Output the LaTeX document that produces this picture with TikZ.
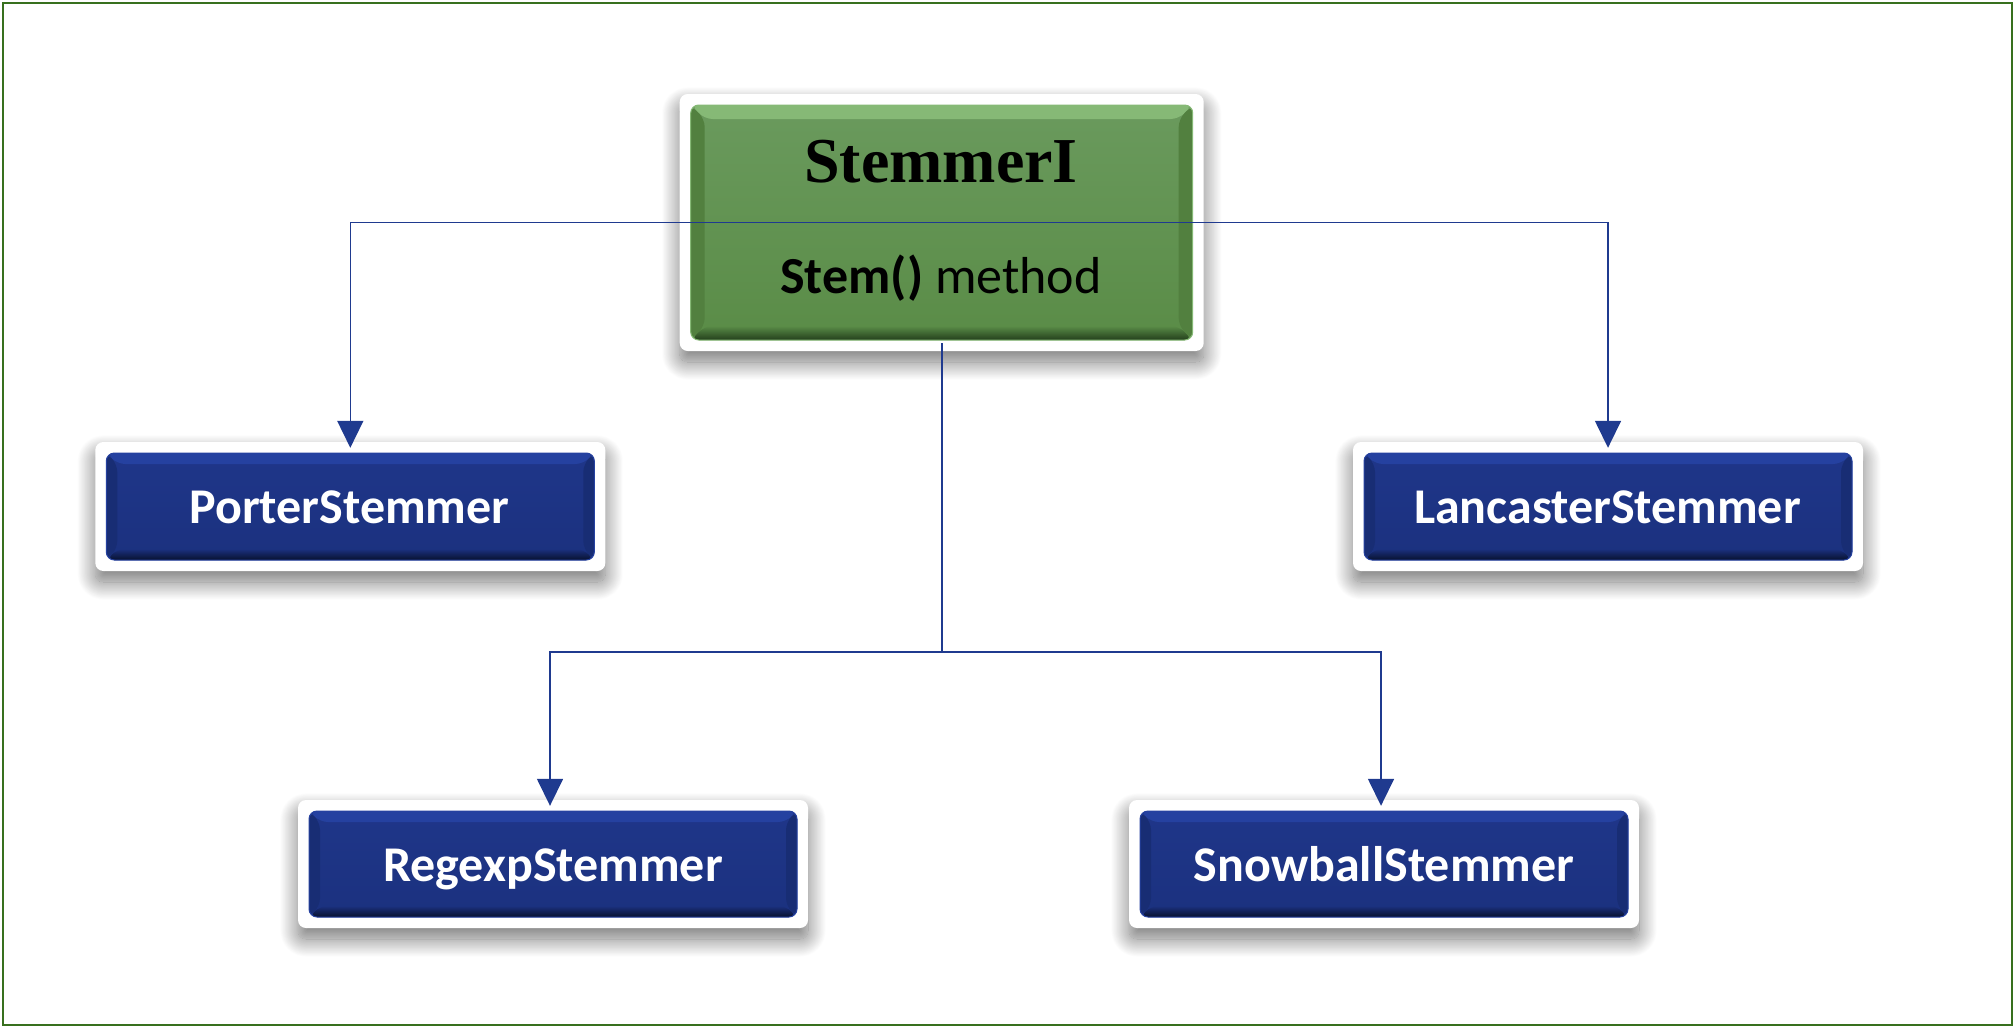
\documentclass[tikz,border=0pt]{standalone}
\usepackage{fontspec}
\setmainfont{Carlito}
\newfontfamily\timesbold{Liberation Serif}
\usetikzlibrary{arrows.meta,shadows.blur,calc}
\definecolor{connc}{HTML}{1F3A8F}
\definecolor{framec}{HTML}{38701E}
\definecolor{gTop}{HTML}{6A9A5D}
\definecolor{gBot}{HTML}{5A8C47}
\definecolor{gLight}{HTML}{86B976}
\definecolor{gDark}{HTML}{233F1C}
\definecolor{gSide}{HTML}{52803F}
\definecolor{bTop}{HTML}{1F3689}
\definecolor{bBot}{HTML}{1B317F}
\definecolor{bLight}{HTML}{2541A0}
\definecolor{bDark}{HTML}{08112E}
\definecolor{bSide}{HTML}{182D74}
\newcommand\bevfill[7]{%
  \coordinate (bvA) at ($(path picture bounding box.north west)+(#1,#1)$);
  \coordinate (bvB) at ($(path picture bounding box.south east)+(-#1,-#1)$);
  \coordinate (bvTR) at (bvA -| bvB);
  \coordinate (bvBL) at (bvA |- bvB);
  \shade[top color=#3,bottom color=#4] (bvA) rectangle (bvB);
  \fill[#5] (bvA) -- (bvTR) -- ($(bvTR)+(-#2,#2)$) -- ($(bvA)+(#2,#2)$) -- cycle;
  \shade[top color=#4, bottom color=#6] (bvBL) -- (bvB) -- ($(bvB)+(-#2,-#2)$) -- ($(bvBL)+(#2,-#2)$) -- cycle;
  \fill[#7] (bvA) -- (bvBL) -- ($(bvBL)+(#2,-#2)$) -- ($(bvA)+(#2,#2)$) -- cycle;
  \fill[#7] (bvTR) -- (bvB) -- ($(bvB)+(-#2,-#2)$) -- ($(bvTR)+(-#2,#2)$) -- cycle;
  \draw[#5, line width=1pt] (bvA) rectangle (bvB);
}
\tikzset{
  box/.style={fill=white, rounded corners=8pt, inner sep=0pt,
    blur shadow={shadow xshift=0pt, shadow yshift=-11pt, shadow blur radius=18pt, shadow blur steps=30, shadow opacity=55}},
  greenbox/.style={box, minimum width=524pt, minimum height=257pt,
    path picture={\bevfill{11}{14}{gTop}{gBot}{gLight}{gDark}{gSide}}},
  bluebox/.style={box, minimum width=510pt, minimum height=129pt,
    path picture={\bevfill{11}{11}{bTop}{bBot}{bLight}{bDark}{bSide}}},
  bluetext/.style={text=white, font=\fontsize{50}{54}\selectfont\bfseries, anchor=base, inner sep=0pt},
  conn/.style={draw=connc, line width=1.6pt},
  arr/.style={conn, -{Triangle[width=26pt,length=27pt]}}
}
\begin{document}
\begin{tikzpicture}[x=1pt,y=-1pt]
\useasboundingbox (0,0) rectangle (2015,1028);
\draw[framec, line width=2.5pt] (3,3) rectangle (2012,1025);

\node[greenbox] (stemmer) at (941.7,222.5) {};
\node[bluebox] (porter) at (350.3,506.5) {};
\node[bluebox] (lancaster) at (1608,506.5) {};
\node[bluebox, minimum height=128pt] (regexp) at (553,864) {};
\node[bluebox, minimum height=128pt] (snowball) at (1384,864) {};

\node[anchor=base, inner sep=0pt, font=\timesbold\fontsize{64}{70}\selectfont\bfseries] (t1) at (941,182) {StemmerI};
\node[anchor=base, inner sep=0pt, font=\fontsize{52}{58}\selectfont] (t2) at (941,293) {\textbf{Stem()} method};
\node[bluetext] (tp) at (349.5,523) {PorterStemmer};
\node[bluetext] (tl) at (1607.5,523) {LancasterStemmer};
\node[bluetext] (tr) at (553,881) {RegexpStemmer};
\node[bluetext] (ts) at (1384,881) {SnowballStemmer};

\draw[arr] (stemmer.center) -| ([yshift=-6pt]porter.north);
\draw[arr] (stemmer.center) -| ([yshift=-6pt]lancaster.north);
\draw[conn] ([yshift=8pt]stemmer.south) -- ++(0,309) coordinate (jn);
\draw[arr] (jn) -| ([xshift=-3pt,yshift=-6pt]regexp.north);
\draw[arr] (jn) -| ([xshift=-3pt,yshift=-6pt]snowball.north);
\end{tikzpicture}
\end{document}
